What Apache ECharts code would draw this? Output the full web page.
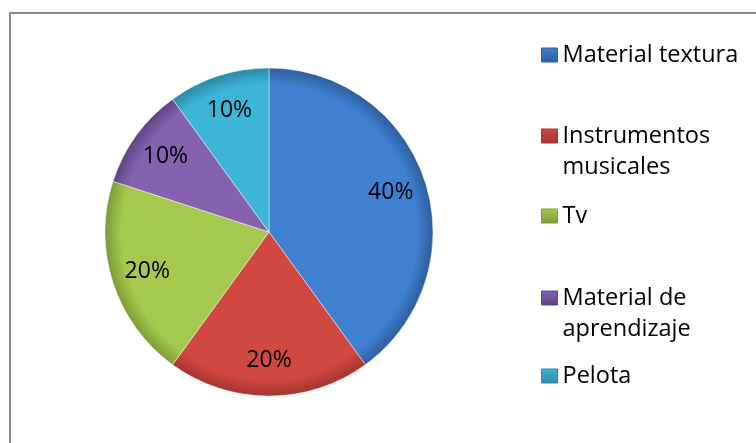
<!DOCTYPE html>
<html>
<head>
<meta charset="utf-8">
<script src="https://cdn.jsdelivr.net/npm/echarts@6/dist/echarts.min.js"></script>
<style>
  html, body { margin: 0; padding: 0; background: #fff; }
  #chart { width: 756px; height: 443px; }
</style>
</head>
<body>
<div id="chart"></div>
<script>
// datos del gráfico
var categorias = ['Material textura', 'Instrumentos musicales', 'Tv', 'Material de aprendizaje', 'Pelota'];
var etiquetasLeyenda = ['Material textura', 'Instrumentos\nmusicales', 'Tv', 'Material de\naprendizaje', 'Pelota'];
var valores = [40, 20, 20, 10, 10];
var colores = ['#4080d0', '#d0483f', '#a6c84e', '#8462ae', '#3db5d6'];
var bordes = ['#2d5e9e', '#a63430', '#7f9c36', '#5e4585', '#2a8aa6'];

var chart = echarts.init(document.getElementById('chart'));

var centro = [269, 232];
var radio = 164;

function relleno(i) {
    return {
        type: 'radial', x: centro[0], y: centro[1], r: radio, global: true,
        colorStops: [
            { offset: 0, color: colores[i] },
            { offset: 0.9, color: colores[i] },
            { offset: 1, color: bordes[i] }
        ]
    };
}

var datosPie = categorias.map(function (c, i) {
    return { name: c, value: valores[i], itemStyle: { color: relleno(i) } };
});
var datosEtiquetas = categorias.map(function (c, i) {
    return { name: c, value: valores[i] };
});

// una leyenda por elemento; los nombres de dos líneas llevan una línea vacía
// arriba para que el icono quede a la altura de la primera línea
var centrosLeyenda = [55, 136, 216, 298, 376];
var LH = 31;
var leyendas = categorias.map(function (c, i) {
    var dosLineas = etiquetasLeyenda[i].indexOf('\n') >= 0;
    return {
        orient: 'vertical',
        left: 541,
        top: dosLineas ? centrosLeyenda[i] - LH * 1.5 : centrosLeyenda[i] - LH / 2,
        padding: 0,
        itemWidth: 16,
        itemHeight: 14,
        icon: 'rect',
        selectedMode: false,
        data: [{
            name: c,
            itemStyle: {
                color: {
                    type: 'linear', x: 0, y: 0, x2: 0, y2: 1,
                    colorStops: [
                        { offset: 0, color: colores[i] },
                        { offset: 1, color: bordes[i] }
                    ]
                },
                borderColor: bordes[i],
                borderWidth: 1
            }
        }],
        formatter: function () { return dosLineas ? ' \n' + etiquetasLeyenda[i] : etiquetasLeyenda[i]; },
        textStyle: {
            fontFamily: 'Open Sans',
            fontSize: 23.5,
            color: '#000',
            lineHeight: LH
        }
    };
});

var option = {
    animation: false,
    backgroundColor: '#fff',
    legend: leyendas,
    graphic: [{
        type: 'rect',
        shape: { x: 10, y: 13, width: 900, height: 600 },
        style: { fill: null, stroke: '#8c8c8c', lineWidth: 2 },
        silent: true
    }],
    series: [
        {
            name: 'pie',
            type: 'pie',
            center: centro,
            radius: radio,
            startAngle: 90,
            clockwise: true,
            label: { show: false },
            labelLine: { show: false },
            itemStyle: { borderColor: 'rgba(255,255,255,0.45)', borderWidth: 1 },
            emphasis: { disabled: true },
            data: datosPie
        },
        {
            name: 'etiquetas',
            type: 'pie',
            center: centro,
            radius: [102, 148],
            startAngle: 90,
            clockwise: true,
            silent: true,
            itemStyle: { color: 'rgba(0,0,0,0)' },
            label: {
                show: true,
                position: 'inside',
                formatter: '{c}%',
                fontFamily: 'Open Sans',
                fontSize: 23,
                color: '#000'
            },
            labelLine: { show: false },
            emphasis: { disabled: true },
            data: datosEtiquetas
        }
    ]
};

chart.setOption(option);
</script>
</body>
</html>
